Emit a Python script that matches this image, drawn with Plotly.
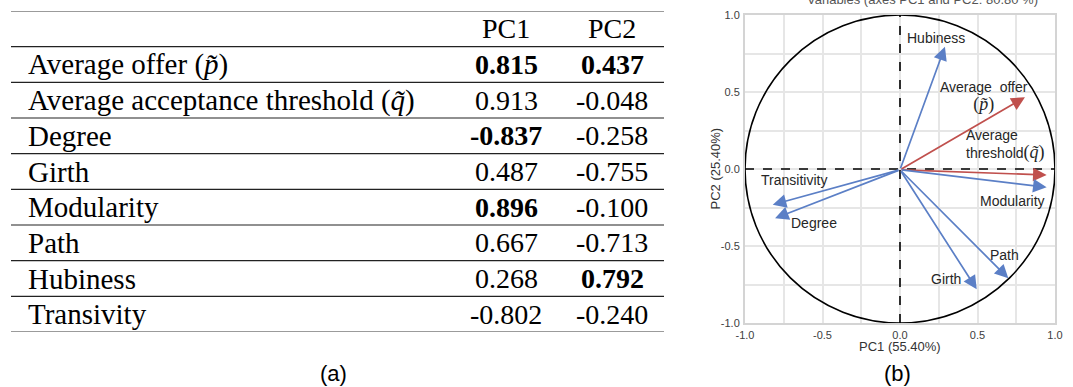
import plotly.graph_objects as go

# ---------------- data ----------------
row_labels = [
    "Average offer (<i>p\u0303</i>)",
    "Average acceptance threshold (<i>q\u0303</i>)",
    "Degree",
    "Girth",
    "Modularity",
    "Path",
    "Hubiness",
    "Transivity",
]
pc1 = [0.815, 0.913, -0.837, 0.487, 0.896, 0.667, 0.268, -0.802]
pc2 = [0.437, -0.048, -0.258, -0.755, -0.100, -0.713, 0.792, -0.240]
bold_pc1 = [True, False, True, False, True, False, False, False]
bold_pc2 = [True, False, False, False, False, False, True, False]
col_headers = ["PC1", "PC2"]

# correlation-circle arrows (b)
arrow_names = ["Average offer", "Average threshold", "Degree", "Girth",
               "Modularity", "Path", "Hubiness", "Transitivity"]
arrow_x = [0.806, 0.946, -0.806, 0.495, 0.946, 0.699, 0.290, -0.821]
arrow_y = [0.466, -0.039, -0.320, -0.781, -0.119, -0.710, 0.794, -0.232]
arrow_colors = ["#C0504D", "#C0504D", "#5B7FC6", "#5B7FC6", "#5B7FC6", "#5B7FC6", "#5B7FC6", "#5B7FC6"]

SERIF = "Liberation Serif, DejaVu Serif, serif"
SANS = "Liberation Sans, Arial, sans-serif"
circle_labels = [
    "Average  offer<br><span style='font-family:Liberation Serif;font-size:18px'>(<i>p\u0303</i>)</span>",
    "Average<br>threshold<span style='font-family:Liberation Serif;font-size:18px'>(<i>q\u0303</i>)</span>",
    "Degree", "Girth", "Modularity", "Path", "Hubiness", "Transitivity",
]
# label positions in data units (layout)
label_pos = [(0.545, 0.47), (0.413, 0.156), (-0.555, -0.349), (0.296, -0.716),
             (0.723, -0.206), (0.674, -0.558), (0.032, 0.849), (-0.684, -0.071)]
label_anchor = ["center", "left", "center", "center", "center", "center", "left", "center"]
label_align = ["center", "left", "left", "left", "left", "left", "left", "left"]

tick_vals = [-1.0, -0.5, 0.0, 0.5, 1.0]
tick_text = ["-1.0", "-0.5", "0.0", "0.5", "1.0"]
x_title = "PC1 (55.40%)"
y_title = "PC2 (25.40%)"
chart_title = "Variables (axes PC1 and PC2: 80.80 %)"

W, H = 1073, 387

fig = go.Figure()
fig.add_trace(go.Scatter(x=[None], y=[None], xaxis="x", yaxis="y", showlegend=False))

shapes = []
annotations = []

shapes.append(dict(type="circle", xref="x", yref="y", x0=-1, y0=-1, x1=1, y1=1,
                   line=dict(color="black", width=1.6), layer="above"))
shapes.append(dict(type="line", xref="x", yref="y", x0=0, x1=0, y0=-1, y1=1,
                   line=dict(color="black", width=1.6, dash="dash")))
shapes.append(dict(type="line", xref="x", yref="y", x0=-1, x1=1, y0=0, y1=0,
                   line=dict(color="black", width=1.6, dash="dash")))

for i in range(len(arrow_x)):
    annotations.append(dict(
        x=arrow_x[i], y=arrow_y[i], ax=0, ay=-0.005, xref="x", yref="y", axref="x", ayref="y",
        text="", showarrow=True, arrowhead=2, arrowsize=1.6, arrowwidth=1.7,
        arrowcolor=arrow_colors[i]))
    lx, ly = label_pos[i]
    annotations.append(dict(
        x=lx, y=ly, xref="x", yref="y", text=circle_labels[i], showarrow=False,
        xanchor=label_anchor[i], yanchor="middle", align=label_align[i],
        font=dict(family=SANS, size=14, color="#262626")))

annotations.append(dict(x=0.5, y=-1.0, xref="x domain", yref="y", yshift=-23, showarrow=False,
                        text=x_title, yanchor="middle", font=dict(family=SANS, size=13, color="#333333")))
annotations.append(dict(x=0, y=0.5, xref="x domain", yref="y domain", xshift=-39, showarrow=False,
                        text=y_title, textangle=-90, font=dict(family=SANS, size=13, color="#333333")))
annotations.append(dict(x=(922 - 745) / 310, y=1, xref="x domain", yref="paper", yanchor="bottom",
                        yshift=-9, showarrow=False, text=chart_title,
                        font=dict(family=SANS, size=13, color="#555555")))

# ---------------- left: table ----------------
x_line0, x_line1 = 11, 664
x_label = 26
x_cols = [506, 612]
for k in range(len(row_labels) + 2):
    edge = k == 0 or k == len(row_labels) + 1
    shapes.append(dict(type="line", xref="x2", yref="y2", x0=x_line0, x1=x_line1, y0=k, y1=k,
                       line=dict(color="#7a7a7a" if edge else "#222222", width=1.6 if edge else 1.2)))

FS_LABEL = 29
FS_NUM = 28
for j, h in enumerate(col_headers):
    annotations.append(dict(x=x_cols[j], y=0.5, xref="x2", yref="y2", text=h, showarrow=False,
                            xanchor="center", yanchor="middle",
                            font=dict(family=SERIF, size=FS_NUM, color="black")))

for i, lab in enumerate(row_labels):
    yy = i + 1.5
    annotations.append(dict(x=x_label, y=yy, xref="x2", yref="y2", text=lab, showarrow=False,
                            xanchor="left", yanchor="middle",
                            font=dict(family=SERIF, size=FS_LABEL, color="black")))
    for j, (vals, bolds) in enumerate(((pc1, bold_pc1), (pc2, bold_pc2))):
        s = f"{vals[i]:.3f}"
        if bolds[i]:
            s = f"<b>{s}</b>"
        annotations.append(dict(x=x_cols[j], y=yy, xref="x2", yref="y2", text=s, showarrow=False,
                                xanchor="center", yanchor="middle",
                                font=dict(family=SERIF, size=FS_NUM, color="black")))

annotations.append(dict(x=333 / W, y=1 - 373 / H, xref="paper", yref="paper", text="(a)", showarrow=False,
                        xanchor="center", yanchor="middle",
                        font=dict(family=SANS, size=22, color="black")))
annotations.append(dict(x=897 / W, y=1 - 373 / H, xref="paper", yref="paper", text="(b)", showarrow=False,
                        xanchor="center", yanchor="middle",
                        font=dict(family=SANS, size=22, color="black")))

grid = "#e6e6e6"
axis_common = dict(range=[-1, 1], tickvals=tick_vals, ticktext=tick_text,
                   showgrid=True, gridcolor=grid, gridwidth=1.5, zeroline=False,
                   minor=dict(dtick=0.25, showgrid=True, gridcolor=grid, gridwidth=1.5),
                   showline=True, mirror=True, linecolor="#d4d4d4", linewidth=2,
                   ticks="outside", ticklen=1, tickcolor="white", automargin=False,
                   tickfont=dict(family=SANS, size=11, color="#404040"), fixedrange=True)
fig.update_layout(
    width=W, height=H,
    margin=dict(l=0, r=0, t=0, b=0, pad=0, autoexpand=False),
    paper_bgcolor="white", plot_bgcolor="white",
    showlegend=False,
    shapes=shapes,
    annotations=annotations,
    xaxis=dict(domain=[745 / W, 1055 / W], **axis_common),
    yaxis=dict(domain=[1 - 323 / H, 1 - 15 / H], **axis_common),
    xaxis2=dict(domain=[0, 0.64], range=[0, 0.64 * W], visible=False, fixedrange=True, automargin=False),
    yaxis2=dict(domain=[1 - 332 / H, 1 - 11 / H], range=[len(row_labels) + 1, 0], visible=False,
                fixedrange=True, automargin=False),
)
fig.add_trace(go.Scatter(x=[None], y=[None], xaxis="x2", yaxis="y2", showlegend=False))

fig.write_html("out.html", config={"displayModeBar": False},
               post_script="document.body.style.margin='0px';")
